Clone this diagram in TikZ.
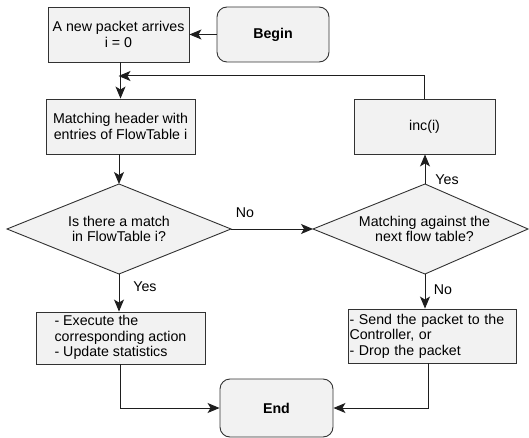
\documentclass[tikz,border=0pt]{standalone}
\usepackage{fontspec}
\setmainfont{Liberation Sans}
\usetikzlibrary{arrows.meta}
\definecolor{boxfill}{RGB}{242,242,242}
\definecolor{boxline}{RGB}{50,50,50}
\definecolor{conn}{RGB}{30,30,30}
\tikzset{
  procbox/.style={draw=boxline, fill=boxfill, line width=0.9pt, inner sep=0pt, align=center,
    font=\fontsize{14.2}{15.5}\selectfont},
  termbox/.style={procbox, rounded corners=10pt, font=\fontsize{14.2}{15.5}\selectfont\bfseries},
  decbox/.style={draw=boxline, fill=boxfill, line width=0.9pt},
  dectext/.style={align=center, inner sep=0pt, font=\fontsize{14.2}{15.5}\selectfont},
  conn/.style={draw=conn, line width=1pt, -{Stealth[length=12pt,width=10pt,inset=3pt]}},
  plainconn/.style={draw=conn, line width=1pt},
  lbl/.style={inner sep=0pt, font=\fontsize{14.2}{15.5}\selectfont}
}
\begin{document}
\begin{tikzpicture}[x=1pt,y=-1pt]
\useasboundingbox (0,0) rectangle (529,438);
% boxes
\node[procbox, minimum width=141pt, minimum height=55pt] (arrive) at (118.5,34.5) {A new packet arrives\\i = 0};
\node[termbox, minimum width=112pt, minimum height=55pt] (begin) at (273,34.5) {Begin};
\node[procbox, minimum width=149pt, minimum height=55pt] (match) at (120.5,126.5) {Matching header with\\entries of FlowTable i};
\node[procbox, minimum width=141pt, minimum height=55pt] (inc) at (424.5,126.5) {inc(i)};
\node[procbox, minimum width=169pt, minimum height=52pt] (exec) at (120.5,338) {\begin{tabular}{@{}l@{}}- Execute the\\corresponding action\\- Update statistics\end{tabular}};
\node[procbox, minimum width=168pt, minimum height=54pt, text width=165pt, align=left] (send) at (432,336) {- Send the packet to the\\Controller, or\\- Drop the packet};
\node[termbox, minimum width=113pt, minimum height=58pt] (end) at (276.5,408) {End};
% diamonds
\coordinate (d1l) at (7,229);
\coordinate (d1t) at (119,184);
\coordinate (d1r) at (231,229);
\coordinate (d1b) at (119,274);
\coordinate (d2l) at (313,229);
\coordinate (d2t) at (425,184);
\coordinate (d2r) at (528,229);
\coordinate (d2b) at (425,274);
\draw[decbox] (d1l) -- (d1t) -- (d1r) -- (d1b) -- cycle;
\draw[decbox] (d2l) -- (d2t) -- (d2r) -- (d2b) -- cycle;
\node[dectext] (d1) at (119,229) {Is there a match\\in FlowTable i?};
\node[dectext] (d2) at (424.5,229) {Matching against the\\next flow table?};
% connectors
\draw[conn] (begin.west) -- (arrive.east);
\draw[conn] (arrive.south -| match.north) -- (match.north);
\coordinate (fb) at (inc.north |- 0,76);
\draw[conn] (inc.north) -- (fb) -- (arrive.south |- fb);
\draw[conn] (match.south -| d1t) -- (d1t);
\draw[conn] (d1r) -- (d2l);
\draw[conn] (d2t) -- (d2t |- inc.south);
\draw[conn] (d1b) -- (d1b |- exec.north);
\draw[conn] (d2b) -- (d2b |- send.north);
\coordinate (ex) at (exec.south |- end.west);
\draw[conn] (exec.south) -- (ex) -- (end.west);
\coordinate (sx) at (428,363);
\draw[conn] (sx) -- (sx |- end.east) -- (end.east);
% labels
\node[lbl] (lno1) at (245,213) {No};
\node[lbl] (lyes1) at (145,287) {Yes};
\node[lbl] (lyes2) at (447,180) {Yes};
\node[lbl] (lno2) at (443,290) {No};
\end{tikzpicture}
\end{document}
